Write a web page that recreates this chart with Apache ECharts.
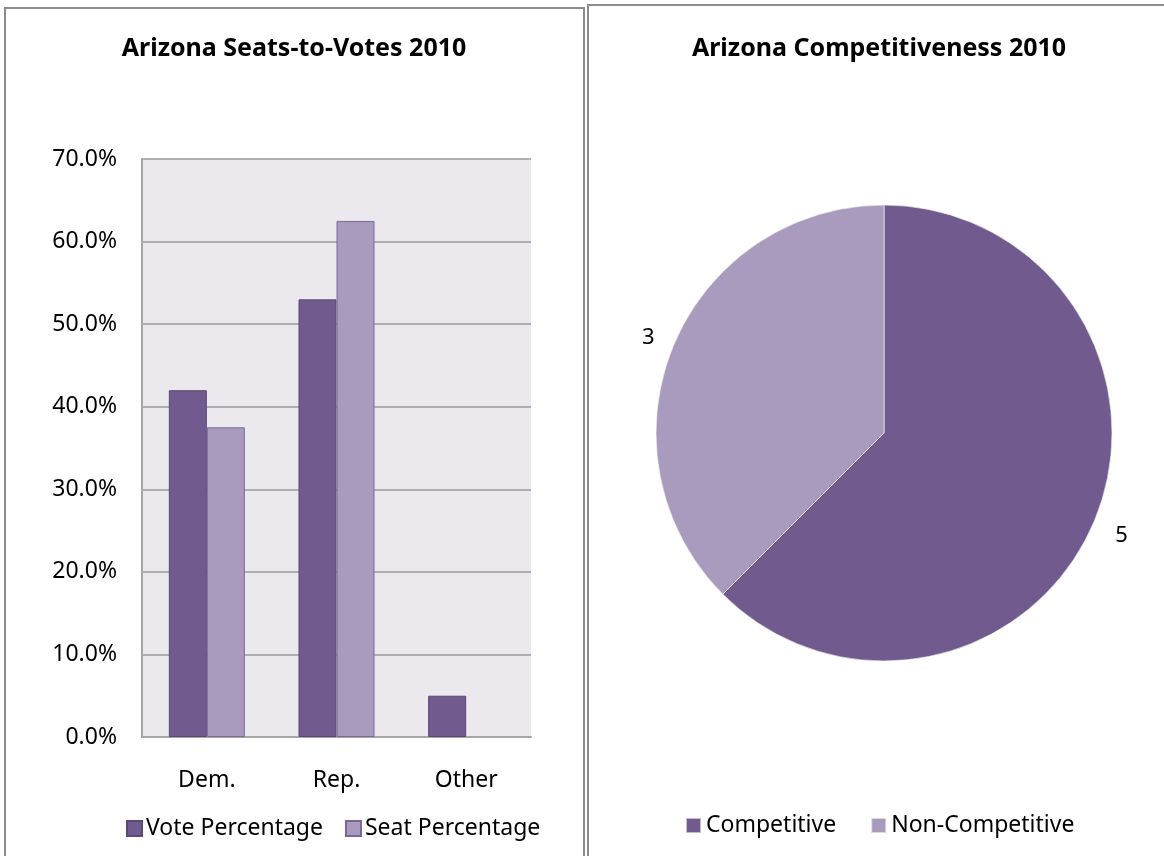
<!DOCTYPE html>
<html><head><meta charset="utf-8">
<script src="https://cdn.jsdelivr.net/npm/echarts@6/dist/echarts.min.js"></script>
<style>html,body{margin:0;padding:0;background:#fff}#c{width:1164px;height:856px}</style>
</head><body><div id="c"></div>
<script>
const barTitle = 'Arizona Seats-to-Votes 2010';
const pieTitle = 'Arizona Competitiveness 2010';
const barCategories = ['Dem.', 'Rep.', 'Other'];
const votePercentage = [42.0, 53.0, 5.0];
const seatPercentage = [37.5, 62.5, 0];
const pieNames = ['Competitive', 'Non-Competitive'];
const pieValues = [5, 3];

const FONT = 'Noto Sans';
const DARK = '#715A8E';
const LIGHT = '#A99BBE';
const pieColors = [DARK, LIGHT];
const pieLabelOffsets = [[0, 9], [2, -2]];

const chart = echarts.init(document.getElementById('c'), null, {renderer: 'canvas'});
chart.setOption({
  animation: false,
  textStyle: {fontFamily: FONT},
  graphic: [
    {type: 'rect', shape: {x: 5, y: 8, width: 579, height: 870}, style: {fill: 'none', stroke: '#8C8C8C', lineWidth: 2}, z: 100},
    {type: 'rect', shape: {x: 588, y: 5, width: 620, height: 870}, style: {fill: 'none', stroke: '#8C8C8C', lineWidth: 2}, z: 100}
  ],
  title: [
    {text: barTitle, left: 289, top: 31, textAlign: 'center',
     textStyle: {fontFamily: FONT, fontSize: 25, fontWeight: 'bold', color: '#000'}},
    {text: pieTitle, left: 874, top: 31, textAlign: 'center',
     textStyle: {fontFamily: FONT, fontSize: 25, fontWeight: 'bold', color: '#000'}}
  ],
  legend: [
    {data: ['Vote Percentage', 'Seat Percentage'], left: 121, top: 812, itemWidth: 15, itemHeight: 15, itemGap: 22, icon: 'rect',
     textStyle: {fontFamily: FONT, fontSize: 23, color: '#000', padding: [0, 0, 0, -1]}},
    {data: pieNames, left: 680, top: 809, itemWidth: 15, itemHeight: 15, itemGap: 34, icon: 'rect',
     textStyle: {fontFamily: FONT, fontSize: 23, color: '#000'}}
  ],
  grid: {left: 142, top: 159, width: 389, height: 578, show: true, backgroundColor: '#EBE8EE', borderWidth: 0},
  xAxis: {
    type: 'category', data: barCategories,
    axisLine: {show: true, lineStyle: {color: '#A6A6A6', width: 2}},
    axisTick: {show: false},
    axisLabel: {fontFamily: FONT, fontSize: 23, color: '#000', margin: 32}
  },
  yAxis: {
    type: 'value', min: 0, max: 70, interval: 10,
    axisLine: {show: true, lineStyle: {color: '#A6A6A6', width: 2}},
    axisTick: {show: false},
    splitLine: {lineStyle: {color: '#9A9A9A', width: 1.5}},
    axisLabel: {fontFamily: FONT, fontSize: 23, color: '#000', margin: 25,
      formatter: v => v.toFixed(1) + '%'}
  },
  series: [
    {name: 'Vote Percentage', type: 'bar', data: votePercentage, barWidth: 38, barGap: '0%',
     itemStyle: {color: DARK, borderColor: '#5C4878', borderWidth: 1}},
    {name: 'Seat Percentage', type: 'bar', data: seatPercentage.map(v => v === 0 ? '-' : v), barWidth: 38,
     itemStyle: {color: LIGHT, borderColor: '#7C6898', borderWidth: 1}},
    {type: 'pie', center: [884, 433], radius: 228, startAngle: 90, clockwise: true,
     data: pieNames.map((n, i) => ({name: n, value: pieValues[i], itemStyle: {color: pieColors[i]},
       label: {offset: pieLabelOffsets[i]}})),
     itemStyle: {borderColor: 'rgba(255,255,255,0.6)', borderWidth: 1},
     label: {show: true, position: 'outside', formatter: '{c}', fontFamily: FONT, fontSize: 22, color: '#000'},
     labelLine: {show: false, length: 17, length2: 0},
     emphasis: {disabled: true}}
  ]
});
</script></body></html>
